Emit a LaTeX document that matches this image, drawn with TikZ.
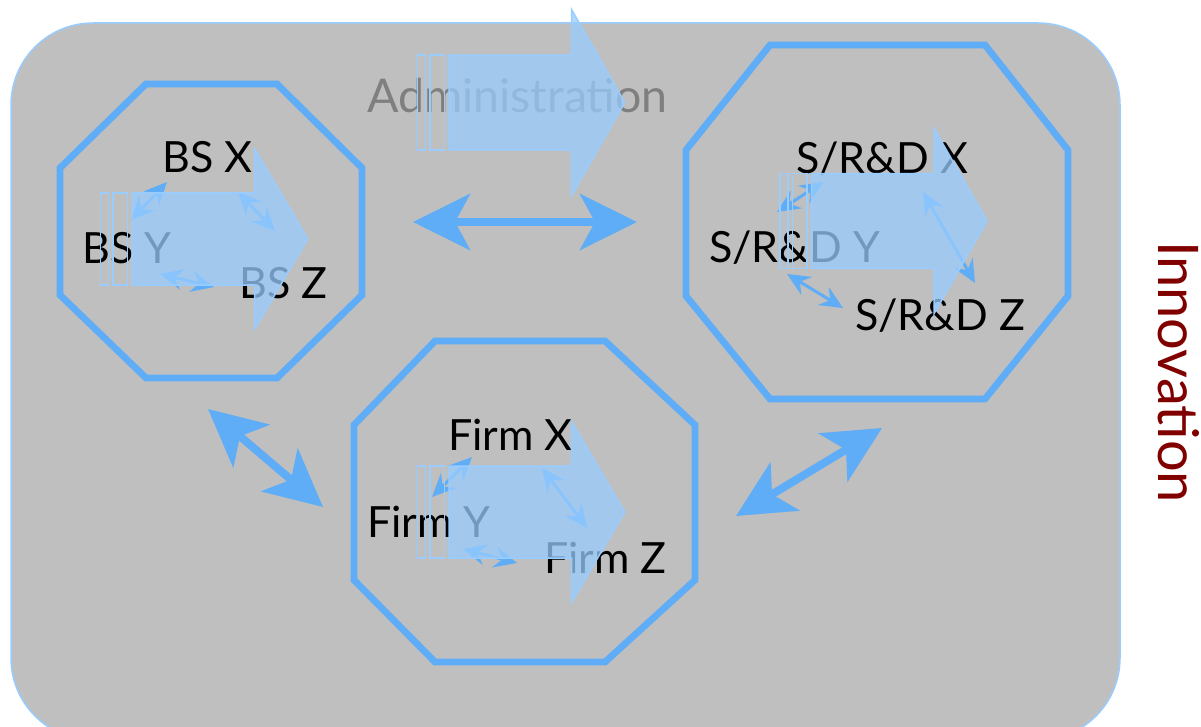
\documentclass[tikz,border=0pt]{standalone}
\usepackage{fontspec}
\setmainfont{Lato}
\usetikzlibrary{arrows.meta}
\definecolor{bgray}{HTML}{BFBFBF}
\definecolor{lblue}{HTML}{99CCFF}
\definecolor{mblue}{RGB}{95,173,246}
\definecolor{dred}{HTML}{800000}
\definecolor{admgray}{HTML}{7F7F7F}
\tikzset{
  octa/.style={draw=mblue, line width=6.8pt, line join=miter},
  lbl/.style={anchor=base west, inner sep=0pt, font=\fontsize{43}{43}\selectfont},
  arrowline/.style={draw=lblue, line width=1.5pt},
  arrowfill/.style={fill=lblue, fill opacity=0.75},
  bigdbl/.style={draw=mblue, line width=8pt, {Stealth[length=57pt,width=56pt,inset=15pt]}-{Stealth[length=57pt,width=56pt,inset=15pt]}},
  smalldbl/.style={draw=mblue, line width=3pt, {Stealth[length=23pt,width=21pt,inset=8pt]}-{Stealth[length=23pt,width=21pt,inset=8pt]}},
  bigarrow/.pic={
    \draw[arrowline] (0,-46) rectangle (8,46);
    \draw[arrowline] (12.5,-46) rectangle (27,46);
    \path[arrowline, arrowfill] (31.5,-46) -- (154,-46) -- (154,-90) -- (207,0) -- (154,90) -- (154,46) -- (31.5,46) -- cycle;
  }
}
\begin{document}
\begin{tikzpicture}[x=1pt,y=-1pt]
\useasboundingbox (0,0) rectangle (1201,727);
% background
\draw[fill=bgray, draw=lblue, line width=1.5pt, rounded corners=82pt] (11,23) rectangle (1120,740);
% octagons
\draw[octa] (146,84) -- (277,84) -- (362,168) -- (362,295) -- (277,378) -- (146,378) -- (60,295) -- (60,168) -- cycle;
\draw[octa] (770,45) -- (985,45) -- (1068,150) -- (1068,296) -- (985,399) -- (770,399) -- (686,296) -- (686,150) -- cycle;
\draw[octa] (435,341) -- (605,341) -- (695,425) -- (695,580) -- (605,662) -- (435,662) -- (354,580) -- (354,425) -- cycle;
% labels
\node[lbl, text=admgray, font=\fontsize{46.5}{46.5}\selectfont] (adm) at (367,113) {Administration};
\node[lbl] (bsx) at (162,173) {BS X};
\node[lbl] (bsy) at (82,263) {BS Y};
\node[lbl] (bsz) at (239,298) {BS Z};
\node[lbl] (srx) at (796,174) {S/R\&D X};
\node[lbl] (sry) at (709,262) {S/R\&D Y};
\node[lbl] (srz) at (855,330) {S/R\&D Z};
\node[lbl] (fx) at (448,450) {Firm X};
\node[lbl] (fy) at (367,537) {Firm Y};
\node[lbl] (fz) at (544,573) {Firm Z};
\node[text=dred, rotate=-90, inner sep=0pt, font=\fontsize{56}{56}\selectfont] (inn) at (1179,372) {Innovation};
% small double arrows
\coordinate (a1) at (131,220); \coordinate (a2) at (167,182);
\coordinate (a3) at (238,192); \coordinate (a4) at (275,231);
\coordinate (a5) at (160,274); \coordinate (a6) at (214,287);
\coordinate (r1) at (777,212); \coordinate (r2) at (823,182);
\coordinate (r3) at (923,192); \coordinate (r4) at (975,283);
\coordinate (r5) at (787,274); \coordinate (r6) at (843,308);
\coordinate (b1) at (432,497); \coordinate (b2) at (472,457);
\coordinate (b3) at (542,468); \coordinate (b4) at (587,528);
\coordinate (b5) at (463,549); \coordinate (b6) at (517,563);
\draw[smalldbl] (a1) -- (a2);
\draw[smalldbl] (a3) -- (a4);
\draw[smalldbl] (a5) -- (a6);
\draw[smalldbl] (r1) -- (r2);
\draw[smalldbl] (r3) -- (r4);
\draw[smalldbl] (r5) -- (r6);
\draw[smalldbl] (b1) -- (b2);
\draw[smalldbl] (b3) -- (b4);
\draw[smalldbl] (b5) -- (b6);
% big striped arrows
\pic at (417.7,102.5) [yscale=1.03] {bigarrow};
\pic at (100.7,239) {bigarrow};
\pic at (780,221) [yscale=1.03] {bigarrow};
\pic at (417.7,512) {bigarrow};
% big double arrows
\coordinate (t1) at (413,222); \coordinate (t2) at (637,222);
\coordinate (l1) at (208,409); \coordinate (l2) at (323,507);
\coordinate (q1) at (736,516); \coordinate (q2) at (882,428);
\draw[bigdbl] (t1) -- (t2);
\draw[bigdbl] (l1) -- (l2);
\draw[bigdbl] (q1) -- (q2);
\end{tikzpicture}
\end{document}
